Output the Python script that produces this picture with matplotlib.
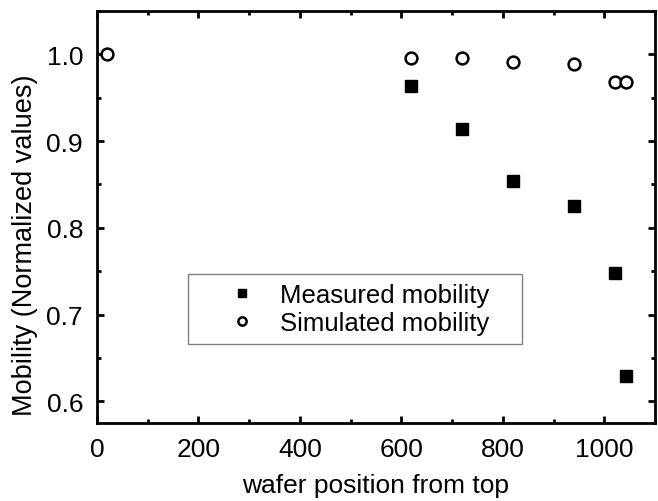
import matplotlib
matplotlib.use("Agg")
import matplotlib.pyplot as plt
from matplotlib.ticker import MultipleLocator

plt.rcParams['font.family'] = ['Liberation Sans', 'DejaVu Sans']

# measured and simulated mobility (normalized) vs wafer position
pos_meas = [620, 720, 820, 940, 1022, 1043]
mob_meas = [0.964, 0.914, 0.854, 0.825, 0.748, 0.629]
pos_sim = [20, 620, 720, 820, 940, 1022, 1043]
mob_sim = [1.0, 0.996, 0.996, 0.991, 0.989, 0.968, 0.968]

fig = plt.figure(figsize=(6.58, 5.02), dpi=100)
ax = fig.add_axes([0.1474, 0.1554, 0.848, 0.8206])

ax.plot(pos_meas, mob_meas, 's', color='black', markersize=8, label='Measured mobility')
ax.plot(pos_sim, mob_sim, 'o', markerfacecolor='white', markeredgecolor='black',
        markeredgewidth=1.8, markersize=8.5, label='Simulated mobility')

ax.set_xlim(0, 1100)
ax.set_ylim(0.575, 1.05)
ax.xaxis.set_major_locator(MultipleLocator(200))
ax.xaxis.set_minor_locator(MultipleLocator(100))
ax.yaxis.set_major_locator(MultipleLocator(0.1))
ax.yaxis.set_minor_locator(MultipleLocator(0.05))

for s in ax.spines.values():
    s.set_linewidth(2)
ax.tick_params(which='both', direction='in', top=True, right=True, width=2, labelsize=19)
ax.tick_params(which='major', length=5, pad=10)
ax.tick_params(which='minor', length=3)

ax.set_xlabel('wafer position from top', fontsize=19, labelpad=9)
ax.set_ylabel('Mobility (Normalized values)', fontsize=19.5, labelpad=6)
ax.yaxis.label.set_y(0.434)

# legend box placed where the reference has it (figure fraction)
leg = ax.legend(loc='center', bbox_to_anchor=(0.2857, 0.3108, 0.5076, 0.1434),
                bbox_transform=fig.transFigure, mode='expand', borderaxespad=0,
                fontsize=18.5, fancybox=False, edgecolor='#606060', markerscale=0.7,
                handlelength=3.5, handletextpad=-0.25, borderpad=0.35, labelspacing=0.12)
leg.get_frame().set_linewidth(1)

fig.savefig('out.png', dpi=100)
plt.close(fig)
